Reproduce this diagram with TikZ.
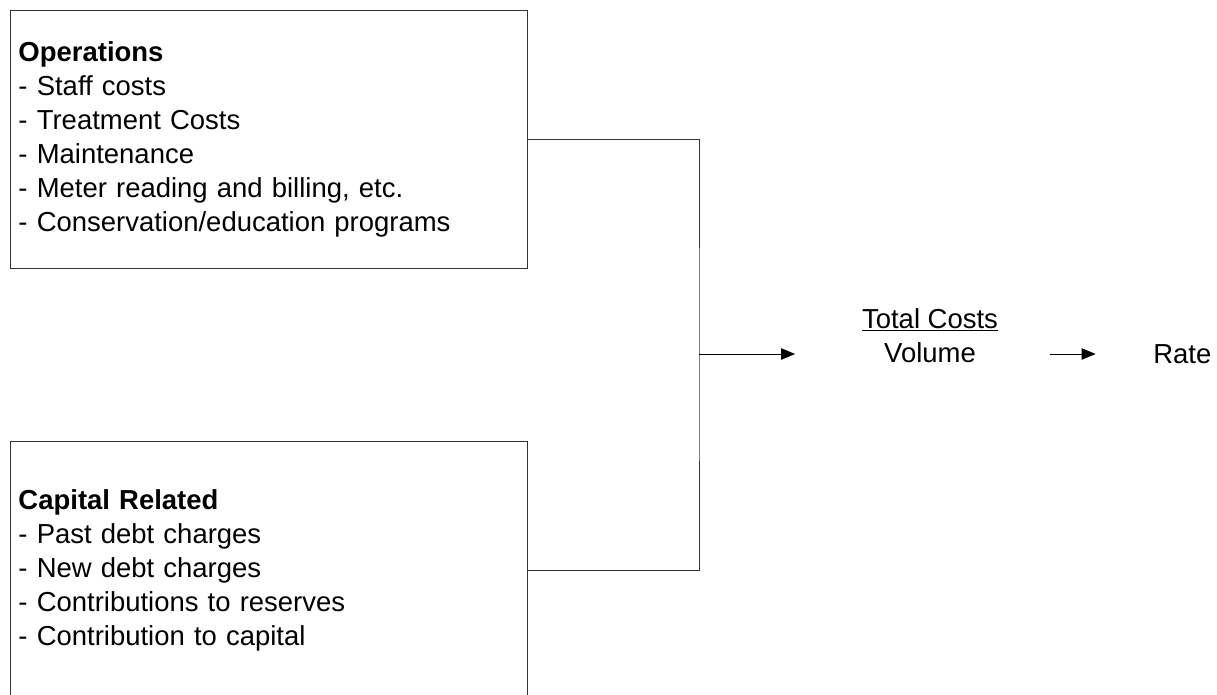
\documentclass[tikz,border=0pt]{standalone}
\usepackage{fontspec}
\setmainfont{Liberation Sans}
\usetikzlibrary{arrows.meta, calc}
\definecolor{lineGray}{gray}{0.2}

\begin{document}
\begin{tikzpicture}[x=0.75pt, y=-0.75pt,
    font=\fontsize{20.6pt}{25.5pt}\selectfont,
    costbox/.style={draw=lineGray, line width=0.75pt, anchor=north west,
        minimum width=387.75pt, minimum height=193.5pt, text width=375pt,
        inner xsep=6.375pt, inner ysep=0pt, align=left},
    plaintext/.style={inner sep=0pt},
    flow/.style={-{Triangle[length=10.5pt, width=8.5pt]}, line width=0.75pt}]
    \useasboundingbox (0,0) rectangle (1217,694);
    \clip (0,0) rectangle (1217,694);
    % cost boxes
    \node[costbox] (ops) at (9.5,10) {\textbf{Operations}\\- Staff costs\\- Treatment Costs\\- Maintenance\\- Meter reading and billing, etc.\\- Conservation/education programs};
    \node[costbox] (cap) at (9.5,441) {\textbf{Capital Related}\\- Past debt charges\\- New debt charges\\- Contributions to reserves\\- Contribution to capital};
    \coordinate (join) at (699,354);
    \node[plaintext, anchor=north, align=center] (ratio) at (930,308) {\underline{Total Costs}\\Volume};
    \node[plaintext, anchor=base west] (rate) at (1153,363) {Rate};
    % connectors
    \draw[lineGray, line width=0.75pt] (ops.east) -| (join) |- (cap.east);
    \draw[flow] (join) -- ([xshift=-50pt]join -| ratio.west);
    \draw[flow] ([xshift=39pt]join -| ratio.east) -- ([xshift=-43pt]join -| rate.west);
\end{tikzpicture}
\end{document}
